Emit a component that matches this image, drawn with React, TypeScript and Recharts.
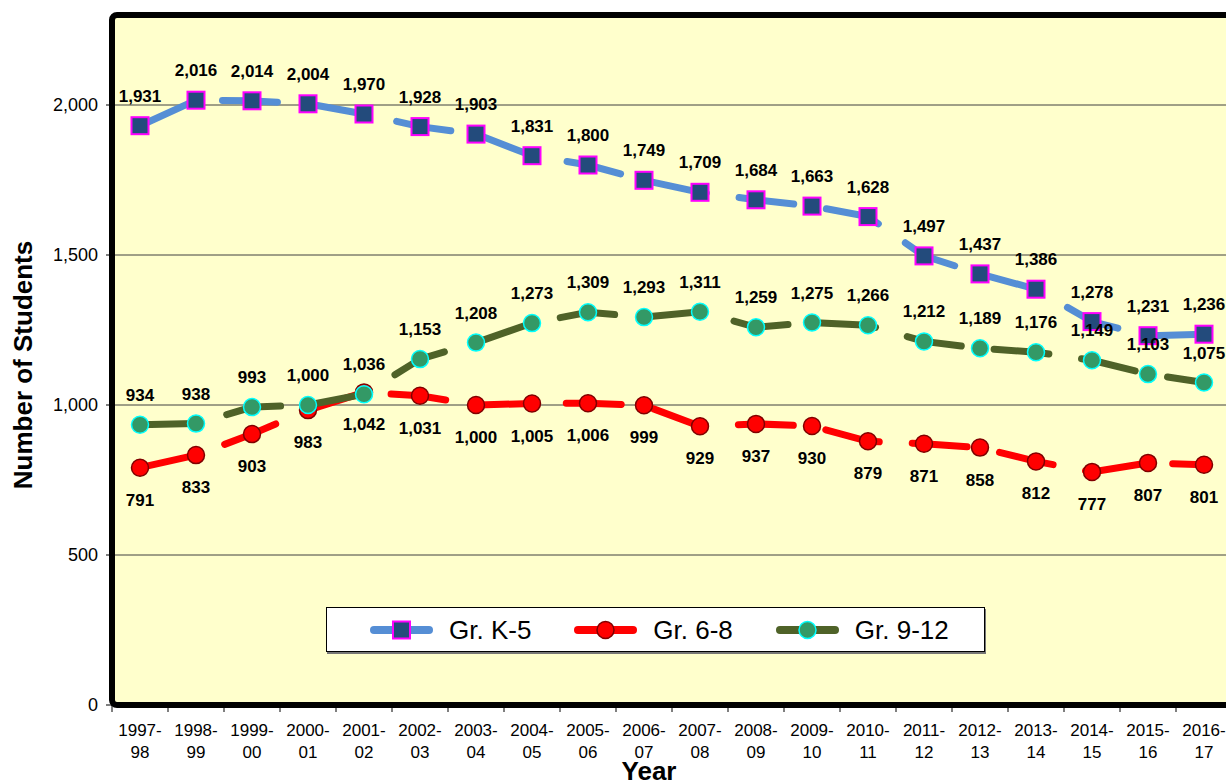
import React from 'react';
import { LineChart, Line, XAxis, YAxis, CartesianGrid, Legend, LabelList } from 'recharts';

const years = [
  '1997-98', '1998-99', '1999-00', '2000-01', '2001-02', '2002-03', '2003-04',
  '2004-05', '2005-06', '2006-07', '2007-08', '2008-09', '2009-10', '2010-11',
  '2011-12', '2012-13', '2013-14', '2014-15', '2015-16', '2016-17',
];
const gradeK5 = [1931, 2016, 2014, 2004, 1970, 1928, 1903, 1831, 1800, 1749, 1709, 1684, 1663, 1628, 1497, 1437, 1386, 1278, 1231, 1236];
const grade68 = [791, 833, 903, 983, 1042, 1031, 1000, 1005, 1006, 999, 929, 937, 930, 879, 871, 858, 812, 777, 807, 801];
const grade912 = [934, 938, 993, 1000, 1036, 1153, 1208, 1273, 1309, 1293, 1311, 1259, 1275, 1266, 1212, 1189, 1176, 1149, 1103, 1075];
const yTicks = [0, 500, 1000, 1500, 2000];

const data = years.map((year, i) => ({ year, k5: gradeK5[i], g68: grade68[i], g912: grade912[i] }));

const FONT = '"Liberation Sans", Arial, sans-serif';
const PLOT_LEFT = 112;
const PLOT_TOP = 15;
const PLOT_W = 1120;
const PLOT_H = 690;
const CHART_W = 1240;
const CHART_H = 781;
const HALF_BAND = PLOT_W / years.length / 2;
const DASH = '55 33';

const SERIES = [
  { key: 'k5', name: 'Gr. K-5', line: '#558ED5', fill: '#234B7C', edge: '#FF00FF', shape: 'square', labelPos: 'top' },
  { key: 'g68', name: 'Gr. 6-8', line: '#FF0000', fill: '#FF0000', edge: '#800000', shape: 'circle', labelPos: 'bottom' },
  { key: 'g912', name: 'Gr. 9-12', line: '#4F6228', fill: '#339966', edge: '#00FFFF', shape: 'circle', labelPos: 'top' },
];

const Marker = ({ cx, cy, s }: any) =>
  s.shape === 'square' ? (
    <rect x={cx - 8.5} y={cy - 8.5} width={17} height={17} fill={s.fill} stroke={s.edge} strokeWidth={2} />
  ) : (
    <circle cx={cx} cy={cy} r={8.5} fill={s.fill} stroke={s.edge} strokeWidth={1.5} />
  );

const makeDot = (s: any) => (props: any) => {
  if (props.cx == null || props.cy == null) return <g key={props.key ?? props.index} />;
  return (
    <g key={`${s.key}-${props.index}`}>
      <Marker cx={props.cx} cy={props.cy} s={s} />
    </g>
  );
};

const YearTick = ({ x, y, payload }: any) => {
  const [a, b] = String(payload.value).split('-');
  return (
    <g>
      <line x1={x - HALF_BAND} x2={x - HALF_BAND} y1={y} y2={y + 7} stroke="#000" strokeWidth={1} />
      <text x={x} y={y + 31} textAnchor="middle" fontSize={17} fontFamily={FONT} fill="#000">{a}-</text>
      <text x={x} y={y + 53} textAnchor="middle" fontSize={17} fontFamily={FONT} fill="#000">{b}</text>
    </g>
  );
};

const YTitle = ({ viewBox }: any) => {
  const cx = (viewBox?.x ?? 0) + 23;
  const cy = (viewBox?.y ?? 0) + (viewBox?.height ?? 0) / 2 + 5;
  return (
    <text x={cx} y={cy} transform={`rotate(-90 ${cx} ${cy})`} textAnchor="middle" dominantBaseline="central"
      fontSize={26} fontWeight="bold" fontFamily={FONT} fill="#000">
      Number of Students
    </text>
  );
};

const XTitle = () => (
  <text x={649} y={780} textAnchor="middle" fontSize={26} fontWeight="bold" fontFamily={FONT} fill="#000">
    Year
  </text>
);

const LegendBox = () => (
  <div style={{
    width: '100%', height: '100%', boxSizing: 'border-box', background: '#fff', border: '1px solid #000',
    boxShadow: '1px 2px 0 #777', display: 'flex', alignItems: 'center', paddingLeft: 43, gap: 43,
  }}>
    {SERIES.map((s) => (
      <div key={s.key} style={{ display: 'flex', alignItems: 'center' }}>
        <svg width={63} height={22} style={{ display: 'block' }}>
          <line x1={4} x2={59} y1={11} y2={11} stroke={s.line} strokeWidth={8} strokeLinecap="round" />
          <Marker cx={31.5} cy={11} s={s} />
        </svg>
        <span style={{ marginLeft: 16, fontFamily: FONT, fontSize: 26, color: '#000', lineHeight: 1 }}>{s.name}</span>
      </div>
    ))}
  </div>
);

export default function App() {
  return (
    <div style={{ position: 'fixed', left: 0, top: 0, width: 1226, height: 781, overflow: 'hidden', background: '#fff' }}>
      <div style={{ position: 'relative', width: CHART_W, height: CHART_H }}>
        <LineChart
          width={CHART_W}
          height={CHART_H}
          data={data}
          margin={{ top: PLOT_TOP, right: CHART_W - PLOT_LEFT - PLOT_W, left: 0, bottom: CHART_H - PLOT_TOP - PLOT_H - 60 }}
        >
          <CartesianGrid vertical={false} fill="#FFFFCC" stroke="#404040" strokeWidth={1} />
          <XAxis
            dataKey="year"
            height={60}
            padding={{ left: HALF_BAND, right: HALF_BAND }}
            axisLine={false}
            tickLine={false}
            tickSize={0}
            tickMargin={0}
            interval={0}
            tick={<YearTick />}
            label={<XTitle />}
          />
          <YAxis
            width={PLOT_LEFT}
            domain={[0, 2300]}
            ticks={yTicks}
            axisLine={false}
            tickLine={{ stroke: '#000' }}
            tickSize={6}
            tickMargin={8}
            tick={{ fill: '#000', fontSize: 18, fontFamily: FONT }}
            tickFormatter={(v: number) => v.toLocaleString('en-US')}
            label={<YTitle />}
          />
          <Legend
            layout="horizontal"
            verticalAlign="middle"
            align="center"
            width={659}
            height={45}
            wrapperStyle={{ left: 326, top: 607, width: 659, height: 45 }}
            content={<LegendBox />}
          />
          {SERIES.map((s) => (
            <Line
              key={s.key}
              type="linear"
              dataKey={s.key}
              name={s.name}
              stroke={s.line}
              strokeWidth={7}
              strokeDasharray={DASH}
              strokeLinecap="round"
              dot={makeDot(s)}
              activeDot={false}
              isAnimationActive={false}
            >
              <LabelList
                dataKey={s.key}
                position={s.labelPos as any}
                offset={s.labelPos === 'top' ? 24 : 26}
                formatter={(v: any) => Number(v).toLocaleString('en-US')}
                style={{ fontFamily: FONT, fontSize: 17, fontWeight: 'bold', fill: '#000' }}
              />
            </Line>
          ))}
        </LineChart>
        <div style={{
          position: 'absolute', left: PLOT_LEFT - 3, top: PLOT_TOP - 3, width: PLOT_W + 6, height: PLOT_H + 6,
          border: '6px solid #000', borderRadius: 8, boxSizing: 'border-box', pointerEvents: 'none',
        }} />
      </div>
    </div>
  );
}
